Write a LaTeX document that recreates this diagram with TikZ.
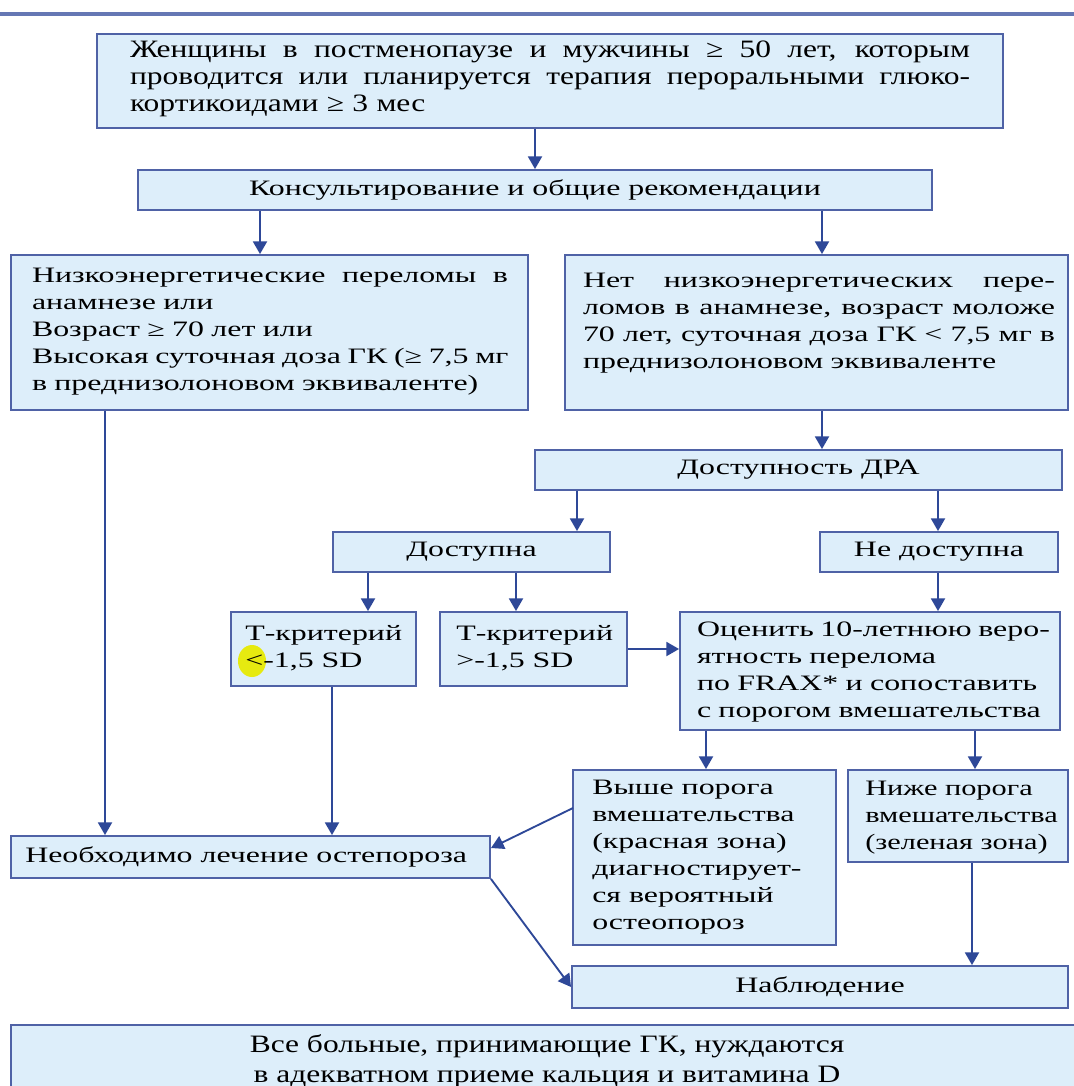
\documentclass[tikz,border=0pt]{standalone}
\usepackage{fontspec}
\setmainfont{Liberation Serif}[FakeStretch=1.45]
\newfontfamily\condfont{Liberation Serif}[FakeStretch=1.26]
\newfontfamily\narrowfont{Liberation Serif}[FakeStretch=1.38]
\usetikzlibrary{arrows.meta,fit,calc}
\definecolor{boxfill}{HTML}{DDEEFA}
\definecolor{boxline}{HTML}{4F62A6}
\definecolor{arrcol}{HTML}{2E4898}
\definecolor{topline}{HTML}{6577B4}
\definecolor{hl}{HTML}{E6EA10}
\newcommand\jl[1]{\makebox[\hsize][s]{\spaceskip=0.3em plus 1fill\relax #1}}
\begin{document}
\begin{tikzpicture}[x=0.75pt,y=-0.75pt,
  box/.style={draw=boxline, fill=boxfill, line width=1.4pt, inner sep=0pt},
  txt/.style={font=\fontsize{16.5}{20.25}\selectfont, inner sep=0pt, align=left},
  ctxt/.style={font=\condfont\fontsize{18.75}{20}\selectfont, inner sep=0pt},
  arr/.style={draw=arrcol, line width=1.4pt, -{Triangle[width=10.5pt,length=9.5pt]}}]
\path[fill=white, use as bounding box] (0,0) rectangle (1074,1086);
\draw[topline, line width=2.4pt] (0,14) coordinate (tl0) -- (1074,14) coordinate (tl1);

% boxes
\node[box, fit={(97,34) (1003,128)}] (b1) {};
\node[box, fit={(138,170) (932,210)}] (b2) {};
\node[box, fit={(11,255) (528,410)}] (b3) {};
\node[box, fit={(565,255) (1068,410)}] (b4) {};
\node[box, fit={(535,450) (1062,490)}] (b5) {};
\node[box, fit={(333,532) (610,572)}] (b6) {};
\node[box, fit={(820,532) (1058,572)}] (b7) {};
\node[box, fit={(231,612) (416,686)}] (b8) {};
\node[box, fit={(440,612) (627,686)}] (b9) {};
\node[box, fit={(680,612) (1060,730)}] (b10) {};
\node[box, fit={(573,770) (836,945)}] (b11) {};
\node[box, fit={(848,770) (1068,862)}] (b12) {};
\node[box, fit={(11,836) (490,878)}] (b13) {};
\node[box, fit={(572,966) (1068,1008)}] (b14) {};
\node[box, fit={(11,1025) (1090,1110)}] (b15) {};

% highlight
\fill[hl] (252,661) ellipse [x radius=14, y radius=16];

% texts
\node[ctxt, text width=630pt, align=left] (t1) at (550,79) {%
\jl{Женщины в постменопаузе и мужчины ≥ 50 лет, которым}\\
\jl{проводится или планируется терапия пероральными глюко-}\\
кортикоидами ≥ 3 мес};
\node[txt] (t2) at (b2.center) {Консультирование и общие рекомендации};
\node[txt, text width=357pt] (t3) at (270,332) {%
\jl{Низкоэнергетические переломы в}\\
анамнезе или\\
Возраст ≥ 70 лет или\\
\jl{Высокая суточная доза ГК (≥ 7,5 мг}\\
в преднизолоновом эквиваленте)};
\node[txt, text width=354pt] (t4) at (819,323) {%
\jl{Нет низкоэнергетических пере-}\\
\jl{ломов в анамнезе, возраст моложе}\\
\jl{70 лет, суточная доза ГК < 7,5 мг в}\\
преднизолоновом эквиваленте};
\node[txt] (t5) at (b5.center) {Доступность ДРА};
\node[txt] (t6) at (b6.center) {Доступна};
\node[txt] (t7) at (b7.center) {Не доступна};
\node[txt, anchor=west] (t8) at (245,648) {Т-критерий\\<-1,5 SD};
\node[txt, anchor=west] (t9) at (456,648) {Т-критерий\\>-1,5 SD};
\node[txt, text width=261pt] (t10) at (871,672) {%
\jl{Оценить 10-летнюю веро-}\\
ятность перелома\\
по FRAX* и сопоставить\\
с порогом вмешательства};
\node[txt, anchor=west] (t11) at (592,857) {Выше порога\\вмешательства\\(красная зона)\\диагностирует-\\ся вероятный\\остеопороз};
\node[txt, anchor=west, font=\narrowfont\fontsize{16.5}{20.25}\selectfont] (t12) at (865,818) {Ниже порога\\вмешательства\\(зеленая зона)};
\node[txt, anchor=west] (t13) at (25,857) {Необходимо лечение остепороза};
\node[txt] (t14) at (b14.center) {Наблюдение};
\node[ctxt, align=center, font=\condfont\fontsize{18.75}{22.5}\selectfont] (t15) at (547,1061) {Все больные, принимающие ГК, нуждаются\\в адекватном приеме кальция и витамина D};

% connector x positions
\coordinate (x260) at (260,0);
\coordinate (x822) at (822,0);
\coordinate (x577) at (577,0);
\coordinate (x938) at (938,0);
\coordinate (x368) at (368,0);
\coordinate (x516) at (516,0);
\coordinate (x706) at (706,0);
\coordinate (x975) at (975,0);
\coordinate (x105) at (105,0);
\coordinate (x332) at (332,0);
\coordinate (x972) at (972,0);
\coordinate (s15) at (573,808);
\coordinate (e15) at (491,848);

\draw[arr] (b2.north |- b1.south) -- (b2.north);
\draw[arr] (b2.south -| x260) -- (b3.north -| x260);
\draw[arr] (b2.south -| x822) -- (b4.north -| x822);
\draw[arr] (b4.south -| x822) -- (b5.north -| x822);
\draw[arr] (b5.south -| x577) -- (b6.north -| x577);
\draw[arr] (b5.south -| x938) -- (b7.north -| x938);
\draw[arr] (b6.south -| x368) -- (b8.north -| x368);
\draw[arr] (b6.south -| x516) -- (b9.north -| x516);
\draw[arr] (b7.south -| x938) -- (b10.north -| x938);
\draw[arr] (b9.east) -- (b9.east -| b10.west);
\draw[arr] (b10.south -| x706) -- (b11.north -| x706);
\draw[arr] (b10.south -| x975) -- (b12.north -| x975);
\draw[arr] (b3.south -| x105) -- (b13.north -| x105);
\draw[arr] (b8.south -| x332) -- (b13.north -| x332);
\draw[arr] (s15) -- (e15);
\draw[arr] (b13.south east) -- (b14.west);
\draw[arr] (b12.south -| x972) -- (b14.north -| x972);
\end{tikzpicture}
\end{document}
